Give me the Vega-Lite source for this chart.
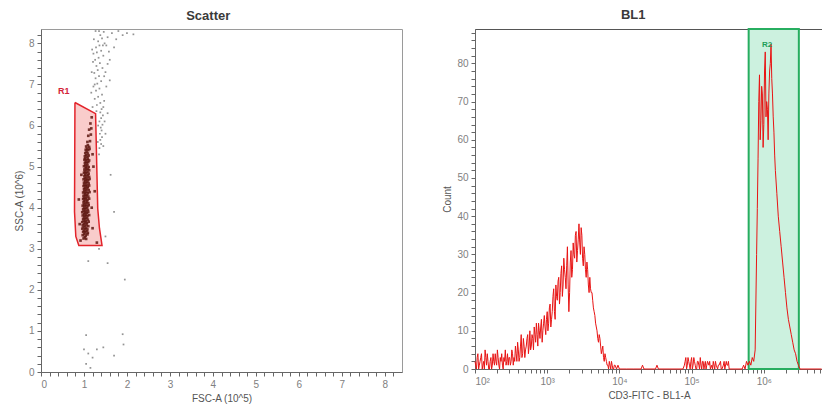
{
  "$schema": "https://vega.github.io/schema/vega-lite/v6.json",
  "background": "white",
  "padding": {"left": 13, "top": 8, "right": 0, "bottom": 0},
  "autosize": {"type": "pad"},
  "spacing": 39,
  "config": {
    "view": {"stroke": null},
    "font": "Liberation Sans",
    "title": {"font": "Liberation Sans", "fontSize": 13, "fontWeight": "bold", "color": "#3a3a3a", "offset": 6, "frame": "bounds"},
    "axis": {"labelFont": "Liberation Sans", "labelFontSize": 10, "labelColor": "#808080", "titleFont": "Liberation Sans", "titleFontSize": 10, "titleFontWeight": "normal", "titleColor": "#555555", "domainColor": "#666666", "tickColor": "#666666", "tickSize": 4, "grid": false, "labelOverlap": false, "labelPadding": 3, "titlePadding": 4}
  },
  "datasets": {
    "gate": [
      {"i": 0, "FSC": 0.79, "SSC": 6.56}, {"i": 1, "FSC": 1.27, "SSC": 6.29}, {"i": 2, "FSC": 1.32, "SSC": 3.98},
      {"i": 3, "FSC": 1.36, "SSC": 3.5}, {"i": 4, "FSC": 1.42, "SSC": 3.08}, {"i": 5, "FSC": 0.88, "SSC": 3.08},
      {"i": 6, "FSC": 0.81, "SSC": 3.3}, {"i": 7, "FSC": 0.78, "SSC": 3.9}, {"i": 8, "FSC": 0.79, "SSC": 6.56}
    ],
    "scatter": [
      {"FSC": 0.99, "SSC": 3.25, "g": "R1"}, {"FSC": 1.02, "SSC": 3.28, "g": "R1"}, {"FSC": 1.05, "SSC": 3.24, "g": "R1"},
      {"FSC": 0.97, "SSC": 3.33, "g": "R1"}, {"FSC": 1.01, "SSC": 3.36, "g": "R1"}, {"FSC": 1.04, "SSC": 3.32, "g": "R1"}, {"FSC": 1.08, "SSC": 3.35, "g": "R1"},
      {"FSC": 0.98, "SSC": 3.41, "g": "R1"}, {"FSC": 1.0, "SSC": 3.44, "g": "R1"}, {"FSC": 1.03, "SSC": 3.4, "g": "R1"}, {"FSC": 1.06, "SSC": 3.43, "g": "R1"}, {"FSC": 1.09, "SSC": 3.39, "g": "R1"},
      {"FSC": 0.96, "SSC": 3.49, "g": "R1"}, {"FSC": 0.99, "SSC": 3.52, "g": "R1"}, {"FSC": 1.02, "SSC": 3.48, "g": "R1"}, {"FSC": 1.05, "SSC": 3.51, "g": "R1"}, {"FSC": 1.08, "SSC": 3.47, "g": "R1"},
      {"FSC": 0.97, "SSC": 3.57, "g": "R1"}, {"FSC": 1.0, "SSC": 3.6, "g": "R1"}, {"FSC": 1.03, "SSC": 3.56, "g": "R1"}, {"FSC": 1.06, "SSC": 3.59, "g": "R1"}, {"FSC": 1.1, "SSC": 3.55, "g": "R1"},
      {"FSC": 0.96, "SSC": 3.65, "g": "R1"}, {"FSC": 0.99, "SSC": 3.68, "g": "R1"}, {"FSC": 1.02, "SSC": 3.64, "g": "R1"}, {"FSC": 1.04, "SSC": 3.67, "g": "R1"}, {"FSC": 1.07, "SSC": 3.63, "g": "R1"}, {"FSC": 1.11, "SSC": 3.66, "g": "R1"},
      {"FSC": 0.98, "SSC": 3.73, "g": "R1"}, {"FSC": 1.01, "SSC": 3.76, "g": "R1"}, {"FSC": 1.03, "SSC": 3.72, "g": "R1"}, {"FSC": 1.06, "SSC": 3.75, "g": "R1"}, {"FSC": 1.09, "SSC": 3.71, "g": "R1"},
      {"FSC": 0.97, "SSC": 3.81, "g": "R1"}, {"FSC": 1.0, "SSC": 3.84, "g": "R1"}, {"FSC": 1.02, "SSC": 3.8, "g": "R1"}, {"FSC": 1.05, "SSC": 3.83, "g": "R1"}, {"FSC": 1.08, "SSC": 3.79, "g": "R1"}, {"FSC": 1.12, "SSC": 3.82, "g": "R1"},
      {"FSC": 0.96, "SSC": 3.89, "g": "R1"}, {"FSC": 0.99, "SSC": 3.92, "g": "R1"}, {"FSC": 1.02, "SSC": 3.88, "g": "R1"}, {"FSC": 1.04, "SSC": 3.91, "g": "R1"}, {"FSC": 1.07, "SSC": 3.87, "g": "R1"}, {"FSC": 1.1, "SSC": 3.9, "g": "R1"},
      {"FSC": 0.98, "SSC": 3.97, "g": "R1"}, {"FSC": 1.01, "SSC": 4.0, "g": "R1"}, {"FSC": 1.03, "SSC": 3.96, "g": "R1"}, {"FSC": 1.06, "SSC": 3.99, "g": "R1"}, {"FSC": 1.09, "SSC": 3.95, "g": "R1"},
      {"FSC": 0.97, "SSC": 4.05, "g": "R1"}, {"FSC": 1.0, "SSC": 4.08, "g": "R1"}, {"FSC": 1.02, "SSC": 4.04, "g": "R1"}, {"FSC": 1.05, "SSC": 4.07, "g": "R1"}, {"FSC": 1.08, "SSC": 4.03, "g": "R1"}, {"FSC": 1.11, "SSC": 4.06, "g": "R1"},
      {"FSC": 0.99, "SSC": 4.13, "g": "R1"}, {"FSC": 1.01, "SSC": 4.16, "g": "R1"}, {"FSC": 1.04, "SSC": 4.12, "g": "R1"}, {"FSC": 1.07, "SSC": 4.15, "g": "R1"}, {"FSC": 1.1, "SSC": 4.11, "g": "R1"},
      {"FSC": 0.98, "SSC": 4.21, "g": "R1"}, {"FSC": 1.0, "SSC": 4.24, "g": "R1"}, {"FSC": 1.03, "SSC": 4.2, "g": "R1"}, {"FSC": 1.05, "SSC": 4.23, "g": "R1"}, {"FSC": 1.08, "SSC": 4.19, "g": "R1"}, {"FSC": 1.12, "SSC": 4.22, "g": "R1"},
      {"FSC": 0.99, "SSC": 4.29, "g": "R1"}, {"FSC": 1.02, "SSC": 4.32, "g": "R1"}, {"FSC": 1.04, "SSC": 4.28, "g": "R1"}, {"FSC": 1.07, "SSC": 4.31, "g": "R1"}, {"FSC": 1.1, "SSC": 4.27, "g": "R1"},
      {"FSC": 0.98, "SSC": 4.37, "g": "R1"}, {"FSC": 1.01, "SSC": 4.4, "g": "R1"}, {"FSC": 1.03, "SSC": 4.36, "g": "R1"}, {"FSC": 1.06, "SSC": 4.39, "g": "R1"}, {"FSC": 1.09, "SSC": 4.35, "g": "R1"}, {"FSC": 1.13, "SSC": 4.38, "g": "R1"},
      {"FSC": 1.0, "SSC": 4.45, "g": "R1"}, {"FSC": 1.02, "SSC": 4.48, "g": "R1"}, {"FSC": 1.05, "SSC": 4.44, "g": "R1"}, {"FSC": 1.08, "SSC": 4.47, "g": "R1"}, {"FSC": 1.11, "SSC": 4.43, "g": "R1"},
      {"FSC": 0.99, "SSC": 4.53, "g": "R1"}, {"FSC": 1.01, "SSC": 4.56, "g": "R1"}, {"FSC": 1.04, "SSC": 4.52, "g": "R1"}, {"FSC": 1.06, "SSC": 4.55, "g": "R1"}, {"FSC": 1.09, "SSC": 4.51, "g": "R1"}, {"FSC": 1.12, "SSC": 4.54, "g": "R1"},
      {"FSC": 1.0, "SSC": 4.61, "g": "R1"}, {"FSC": 1.03, "SSC": 4.64, "g": "R1"}, {"FSC": 1.05, "SSC": 4.6, "g": "R1"}, {"FSC": 1.08, "SSC": 4.63, "g": "R1"}, {"FSC": 1.11, "SSC": 4.59, "g": "R1"},
      {"FSC": 0.99, "SSC": 4.69, "g": "R1"}, {"FSC": 1.02, "SSC": 4.72, "g": "R1"}, {"FSC": 1.04, "SSC": 4.68, "g": "R1"}, {"FSC": 1.07, "SSC": 4.71, "g": "R1"}, {"FSC": 1.1, "SSC": 4.67, "g": "R1"}, {"FSC": 1.13, "SSC": 4.7, "g": "R1"},
      {"FSC": 1.01, "SSC": 4.77, "g": "R1"}, {"FSC": 1.03, "SSC": 4.8, "g": "R1"}, {"FSC": 1.06, "SSC": 4.76, "g": "R1"}, {"FSC": 1.09, "SSC": 4.79, "g": "R1"}, {"FSC": 1.12, "SSC": 4.75, "g": "R1"},
      {"FSC": 1.0, "SSC": 4.85, "g": "R1"}, {"FSC": 1.02, "SSC": 4.88, "g": "R1"}, {"FSC": 1.05, "SSC": 4.84, "g": "R1"}, {"FSC": 1.08, "SSC": 4.87, "g": "R1"}, {"FSC": 1.11, "SSC": 4.83, "g": "R1"},
      {"FSC": 1.01, "SSC": 4.93, "g": "R1"}, {"FSC": 1.04, "SSC": 4.96, "g": "R1"}, {"FSC": 1.06, "SSC": 4.92, "g": "R1"}, {"FSC": 1.09, "SSC": 4.95, "g": "R1"}, {"FSC": 1.12, "SSC": 4.91, "g": "R1"},
      {"FSC": 1.0, "SSC": 5.01, "g": "R1"}, {"FSC": 1.03, "SSC": 5.04, "g": "R1"}, {"FSC": 1.05, "SSC": 5.0, "g": "R1"}, {"FSC": 1.08, "SSC": 5.03, "g": "R1"}, {"FSC": 1.11, "SSC": 4.99, "g": "R1"},
      {"FSC": 1.02, "SSC": 5.09, "g": "R1"}, {"FSC": 1.04, "SSC": 5.12, "g": "R1"}, {"FSC": 1.07, "SSC": 5.08, "g": "R1"}, {"FSC": 1.1, "SSC": 5.11, "g": "R1"},
      {"FSC": 1.01, "SSC": 5.17, "g": "R1"}, {"FSC": 1.03, "SSC": 5.2, "g": "R1"}, {"FSC": 1.06, "SSC": 5.16, "g": "R1"}, {"FSC": 1.09, "SSC": 5.19, "g": "R1"}, {"FSC": 1.12, "SSC": 5.15, "g": "R1"},
      {"FSC": 1.02, "SSC": 5.25, "g": "R1"}, {"FSC": 1.05, "SSC": 5.28, "g": "R1"}, {"FSC": 1.08, "SSC": 5.24, "g": "R1"}, {"FSC": 1.11, "SSC": 5.27, "g": "R1"},
      {"FSC": 1.03, "SSC": 5.33, "g": "R1"}, {"FSC": 1.06, "SSC": 5.36, "g": "R1"}, {"FSC": 1.09, "SSC": 5.32, "g": "R1"},
      {"FSC": 1.04, "SSC": 5.41, "g": "R1"}, {"FSC": 1.07, "SSC": 5.44, "g": "R1"}, {"FSC": 1.1, "SSC": 5.4, "g": "R1"}, {"FSC": 1.13, "SSC": 5.43, "g": "R1"},
      {"FSC": 1.05, "SSC": 5.49, "g": "R1"}, {"FSC": 1.09, "SSC": 5.52, "g": "R1"}, {"FSC": 1.12, "SSC": 5.48, "g": "R1"},
      {"FSC": 1.08, "SSC": 5.6, "g": "R1"}, {"FSC": 1.14, "SSC": 5.62, "g": "R1"}, {"FSC": 1.1, "SSC": 5.75, "g": "R1"}, {"FSC": 1.16, "SSC": 5.78, "g": "R1"},
      {"FSC": 1.12, "SSC": 5.9, "g": "R1"}, {"FSC": 1.17, "SSC": 5.93, "g": "R1"}, {"FSC": 1.15, "SSC": 6.05, "g": "R1"}, {"FSC": 1.18, "SSC": 6.2, "g": "R1"},
      {"FSC": 0.9, "SSC": 3.6, "g": "R1"}, {"FSC": 0.88, "SSC": 4.2, "g": "R1"}, {"FSC": 1.2, "SSC": 3.5, "g": "R1"}, {"FSC": 1.25, "SSC": 4.4, "g": "R1"},
      {"FSC": 1.22, "SSC": 5.0, "g": "R1"}, {"FSC": 0.92, "SSC": 3.2, "g": "R1"}, {"FSC": 1.3, "SSC": 3.15, "g": "R1"}, {"FSC": 0.94, "SSC": 4.8, "g": "R1"},
      {"FSC": 1.18, "SSC": 4.0, "g": "R1"}, {"FSC": 1.2, "SSC": 5.3, "g": "R1"},
      {"FSC": 1.36, "SSC": 5.45, "g": "out"}, {"FSC": 1.4, "SSC": 5.55, "g": "out"}, {"FSC": 1.38, "SSC": 5.65, "g": "out"}, {"FSC": 1.42, "SSC": 5.72, "g": "out"},
      {"FSC": 1.37, "SSC": 5.8, "g": "out"}, {"FSC": 1.41, "SSC": 5.88, "g": "out"}, {"FSC": 1.39, "SSC": 5.95, "g": "out"}, {"FSC": 1.43, "SSC": 6.02, "g": "out"},
      {"FSC": 1.36, "SSC": 6.1, "g": "out"}, {"FSC": 1.4, "SSC": 6.18, "g": "out"}, {"FSC": 1.44, "SSC": 6.25, "g": "out"}, {"FSC": 1.38, "SSC": 6.32, "g": "out"},
      {"FSC": 1.41, "SSC": 6.4, "g": "out"}, {"FSC": 1.35, "SSC": 5.3, "g": "out"}, {"FSC": 1.45, "SSC": 5.5, "g": "out"},
      {"FSC": 1.3, "SSC": 6.5, "g": "out"}, {"FSC": 1.38, "SSC": 6.55, "g": "out"}, {"FSC": 1.25, "SSC": 6.65, "g": "out"}, {"FSC": 1.33, "SSC": 6.7, "g": "out"},
      {"FSC": 1.42, "SSC": 6.75, "g": "out"}, {"FSC": 1.28, "SSC": 6.85, "g": "out"}, {"FSC": 1.36, "SSC": 6.9, "g": "out"}, {"FSC": 1.22, "SSC": 6.95, "g": "out"},
      {"FSC": 1.31, "SSC": 7.02, "g": "out"}, {"FSC": 1.4, "SSC": 7.08, "g": "out"}, {"FSC": 1.27, "SSC": 7.15, "g": "out"}, {"FSC": 1.35, "SSC": 7.2, "g": "out"},
      {"FSC": 1.24, "SSC": 7.28, "g": "out"}, {"FSC": 1.32, "SSC": 7.35, "g": "out"}, {"FSC": 1.43, "SSC": 7.4, "g": "out"}, {"FSC": 1.29, "SSC": 7.45, "g": "out"},
      {"FSC": 1.37, "SSC": 7.52, "g": "out"}, {"FSC": 1.26, "SSC": 7.6, "g": "out"}, {"FSC": 1.34, "SSC": 7.65, "g": "out"}, {"FSC": 1.45, "SSC": 7.7, "g": "out"},
      {"FSC": 1.3, "SSC": 7.78, "g": "out"}, {"FSC": 1.4, "SSC": 7.82, "g": "out"}, {"FSC": 1.28, "SSC": 7.9, "g": "out"}, {"FSC": 1.36, "SSC": 7.95, "g": "out"},
      {"FSC": 1.48, "SSC": 8.0, "g": "out"}, {"FSC": 1.33, "SSC": 8.05, "g": "out"}, {"FSC": 1.42, "SSC": 8.12, "g": "out"}, {"FSC": 1.55, "SSC": 8.15, "g": "out"},
      {"FSC": 1.38, "SSC": 8.2, "g": "out"}, {"FSC": 1.65, "SSC": 8.25, "g": "out"}, {"FSC": 1.75, "SSC": 8.1, "g": "out"}, {"FSC": 1.25, "SSC": 7.0, "g": "out"},
      {"FSC": 1.5, "SSC": 7.3, "g": "out"}, {"FSC": 1.47, "SSC": 6.6, "g": "out"}, {"FSC": 1.2, "SSC": 6.45, "g": "out"}, {"FSC": 1.6, "SSC": 7.6, "g": "out"},
      {"FSC": 1.9, "SSC": 8.2, "g": "out"}, {"FSC": 2.15, "SSC": 8.22, "g": "out"}, {"FSC": 1.7, "SSC": 7.9, "g": "out"}, {"FSC": 1.55, "SSC": 7.5, "g": "out"},
      {"FSC": 1.18, "SSC": 7.3, "g": "out"}, {"FSC": 1.21, "SSC": 7.55, "g": "out"}, {"FSC": 1.19, "SSC": 7.85, "g": "out"}, {"FSC": 1.23, "SSC": 8.1, "g": "out"},
      {"FSC": 1.27, "SSC": 8.3, "g": "out"}, {"FSC": 1.46, "SSC": 8.28, "g": "out"}, {"FSC": 1.52, "SSC": 7.95, "g": "out"}, {"FSC": 1.58, "SSC": 7.8, "g": "out"},
      {"FSC": 1.47, "SSC": 7.2, "g": "out"}, {"FSC": 1.52, "SSC": 6.95, "g": "out"}, {"FSC": 1.45, "SSC": 6.45, "g": "out"}, {"FSC": 1.48, "SSC": 6.1, "g": "out"},
      {"FSC": 1.5, "SSC": 5.8, "g": "out"}, {"FSC": 1.33, "SSC": 6.0, "g": "out"}, {"FSC": 1.32, "SSC": 5.6, "g": "out"}, {"FSC": 1.29, "SSC": 6.35, "g": "out"},
      {"FSC": 1.55, "SSC": 6.3, "g": "out"}, {"FSC": 1.6, "SSC": 7.1, "g": "out"}, {"FSC": 1.35, "SSC": 8.3, "g": "out"}, {"FSC": 1.8, "SSC": 8.3, "g": "out"},
      {"FSC": 2.0, "SSC": 8.25, "g": "out"}, {"FSC": 1.22, "SSC": 7.75, "g": "out"}, {"FSC": 1.17, "SSC": 6.8, "g": "out"}, {"FSC": 1.44, "SSC": 7.95, "g": "out"},
      {"FSC": 1.1, "SSC": 2.7, "g": "out"}, {"FSC": 1.55, "SSC": 2.65, "g": "out"}, {"FSC": 1.95, "SSC": 2.25, "g": "out"}, {"FSC": 1.05, "SSC": 0.9, "g": "out"},
      {"FSC": 1.92, "SSC": 0.67, "g": "out"}, {"FSC": 1.9, "SSC": 0.92, "g": "out"}, {"FSC": 1.1, "SSC": 0.45, "g": "out"}, {"FSC": 1.2, "SSC": 0.35, "g": "out"},
      {"FSC": 1.05, "SSC": 0.2, "g": "out"}, {"FSC": 1.3, "SSC": 0.55, "g": "out"}, {"FSC": 1.45, "SSC": 0.6, "g": "out"}, {"FSC": 1.15, "SSC": 0.1, "g": "out"},
      {"FSC": 1.7, "SSC": 3.9, "g": "out"}, {"FSC": 1.62, "SSC": 4.8, "g": "out"}, {"FSC": 1.5, "SSC": 3.3, "g": "out"}, {"FSC": 1.35, "SSC": 3.0, "g": "out"},
      {"FSC": 1.7, "SSC": 0.4, "g": "out"}, {"FSC": 1.0, "SSC": 0.55, "g": "out"}
    ],
    "hist": [
      {"BL1_A": 100, "Count": 2}, {"BL1_A": 104.7, "Count": 0}, {"BL1_A": 109.6, "Count": 4}, {"BL1_A": 114.8, "Count": 1},
      {"BL1_A": 120.2, "Count": 3}, {"BL1_A": 125.9, "Count": 0}, {"BL1_A": 131.8, "Count": 2}, {"BL1_A": 138.0, "Count": 5},
      {"BL1_A": 144.5, "Count": 1}, {"BL1_A": 151.4, "Count": 2}, {"BL1_A": 158.5, "Count": 0}, {"BL1_A": 166.0, "Count": 3},
      {"BL1_A": 173.8, "Count": 1}, {"BL1_A": 182.0, "Count": 2}, {"BL1_A": 190.5, "Count": 4}, {"BL1_A": 199.5, "Count": 1},
      {"BL1_A": 208.9, "Count": 3}, {"BL1_A": 218.8, "Count": 0}, {"BL1_A": 229.1, "Count": 2}, {"BL1_A": 239.9, "Count": 1},
      {"BL1_A": 251.2, "Count": 3}, {"BL1_A": 263.0, "Count": 5}, {"BL1_A": 275.4, "Count": 2}, {"BL1_A": 288.4, "Count": 1},
      {"BL1_A": 302.0, "Count": 3}, {"BL1_A": 316.2, "Count": 2}, {"BL1_A": 331.1, "Count": 4}, {"BL1_A": 346.7, "Count": 3},
      {"BL1_A": 363.1, "Count": 6}, {"BL1_A": 380.2, "Count": 2}, {"BL1_A": 398.1, "Count": 5}, {"BL1_A": 416.9, "Count": 3},
      {"BL1_A": 436.5, "Count": 9}, {"BL1_A": 457.1, "Count": 4}, {"BL1_A": 478.6, "Count": 6}, {"BL1_A": 501.2, "Count": 5},
      {"BL1_A": 524.8, "Count": 8}, {"BL1_A": 549.5, "Count": 4}, {"BL1_A": 575.4, "Count": 10}, {"BL1_A": 602.6, "Count": 6},
      {"BL1_A": 631.0, "Count": 8}, {"BL1_A": 660.7, "Count": 11}, {"BL1_A": 691.8, "Count": 7}, {"BL1_A": 724.4, "Count": 9},
      {"BL1_A": 758.6, "Count": 12}, {"BL1_A": 794.3, "Count": 8}, {"BL1_A": 831.8, "Count": 13}, {"BL1_A": 871.0, "Count": 10},
      {"BL1_A": 912.0, "Count": 14}, {"BL1_A": 955.0, "Count": 9}, {"BL1_A": 1000, "Count": 15}, {"BL1_A": 1047, "Count": 12},
      {"BL1_A": 1096, "Count": 17}, {"BL1_A": 1148, "Count": 13}, {"BL1_A": 1202, "Count": 19}, {"BL1_A": 1259, "Count": 15},
      {"BL1_A": 1318, "Count": 22}, {"BL1_A": 1380, "Count": 18}, {"BL1_A": 1445, "Count": 24}, {"BL1_A": 1514, "Count": 20},
      {"BL1_A": 1585, "Count": 27}, {"BL1_A": 1660, "Count": 22}, {"BL1_A": 1738, "Count": 26}, {"BL1_A": 1820, "Count": 21},
      {"BL1_A": 1905, "Count": 32}, {"BL1_A": 1995, "Count": 15}, {"BL1_A": 2089, "Count": 28}, {"BL1_A": 2188, "Count": 24},
      {"BL1_A": 2291, "Count": 33}, {"BL1_A": 2399, "Count": 29}, {"BL1_A": 2512, "Count": 36}, {"BL1_A": 2630, "Count": 31},
      {"BL1_A": 2754, "Count": 38}, {"BL1_A": 2884, "Count": 30}, {"BL1_A": 3020, "Count": 35}, {"BL1_A": 3162, "Count": 27},
      {"BL1_A": 3311, "Count": 30}, {"BL1_A": 3467, "Count": 24}, {"BL1_A": 3631, "Count": 26}, {"BL1_A": 3802, "Count": 20},
      {"BL1_A": 3981, "Count": 21}, {"BL1_A": 4169, "Count": 20}, {"BL1_A": 4365, "Count": 16}, {"BL1_A": 4571, "Count": 14},
      {"BL1_A": 4786, "Count": 11}, {"BL1_A": 5012, "Count": 8}, {"BL1_A": 5248, "Count": 9}, {"BL1_A": 5495, "Count": 6},
      {"BL1_A": 5754, "Count": 5}, {"BL1_A": 6026, "Count": 3}, {"BL1_A": 6310, "Count": 4}, {"BL1_A": 6607, "Count": 2},
      {"BL1_A": 6918, "Count": 1}, {"BL1_A": 7244, "Count": 2}, {"BL1_A": 7586, "Count": 0}, {"BL1_A": 7943, "Count": 1},
      {"BL1_A": 8318, "Count": 0}, {"BL1_A": 8710, "Count": 1}, {"BL1_A": 9120, "Count": 0}, {"BL1_A": 9550, "Count": 1},
      {"BL1_A": 10000, "Count": 0}, {"BL1_A": 12590, "Count": 0}, {"BL1_A": 15850, "Count": 0}, {"BL1_A": 19950, "Count": 0},
      {"BL1_A": 20890, "Count": 1}, {"BL1_A": 21880, "Count": 0}, {"BL1_A": 31620, "Count": 0}, {"BL1_A": 33110, "Count": 1},
      {"BL1_A": 34670, "Count": 0}, {"BL1_A": 50120, "Count": 0}, {"BL1_A": 75860, "Count": 0}, {"BL1_A": 79430, "Count": 1},
      {"BL1_A": 83180, "Count": 3}, {"BL1_A": 87100, "Count": 1}, {"BL1_A": 91200, "Count": 2}, {"BL1_A": 95500, "Count": 0},
      {"BL1_A": 100000, "Count": 3}, {"BL1_A": 104700, "Count": 1}, {"BL1_A": 109600, "Count": 2}, {"BL1_A": 114800, "Count": 0},
      {"BL1_A": 120200, "Count": 2}, {"BL1_A": 125900, "Count": 1}, {"BL1_A": 131800, "Count": 3}, {"BL1_A": 138000, "Count": 0},
      {"BL1_A": 144500, "Count": 2}, {"BL1_A": 151400, "Count": 1}, {"BL1_A": 158500, "Count": 0}, {"BL1_A": 166000, "Count": 2},
      {"BL1_A": 173800, "Count": 1}, {"BL1_A": 182000, "Count": 0}, {"BL1_A": 190500, "Count": 1}, {"BL1_A": 199500, "Count": 2},
      {"BL1_A": 208900, "Count": 0}, {"BL1_A": 218800, "Count": 1}, {"BL1_A": 229100, "Count": 0}, {"BL1_A": 239900, "Count": 1},
      {"BL1_A": 251200, "Count": 2}, {"BL1_A": 263000, "Count": 0}, {"BL1_A": 275400, "Count": 1}, {"BL1_A": 288400, "Count": 0},
      {"BL1_A": 302000, "Count": 2}, {"BL1_A": 316200, "Count": 1}, {"BL1_A": 331100, "Count": 0}, {"BL1_A": 501200, "Count": 0},
      {"BL1_A": 524800, "Count": 1}, {"BL1_A": 549500, "Count": 0}, {"BL1_A": 575400, "Count": 2}, {"BL1_A": 602600, "Count": 1},
      {"BL1_A": 631000, "Count": 2}, {"BL1_A": 660700, "Count": 1}, {"BL1_A": 691800, "Count": 3}, {"BL1_A": 724400, "Count": 2},
      {"BL1_A": 758600, "Count": 5}, {"BL1_A": 794300, "Count": 30}, {"BL1_A": 831800, "Count": 55}, {"BL1_A": 871000, "Count": 77},
      {"BL1_A": 912000, "Count": 65}, {"BL1_A": 955000, "Count": 72}, {"BL1_A": 1000000, "Count": 64}, {"BL1_A": 1047000, "Count": 83},
      {"BL1_A": 1096000, "Count": 70}, {"BL1_A": 1148000, "Count": 60}, {"BL1_A": 1202000, "Count": 78}, {"BL1_A": 1259000, "Count": 85},
      {"BL1_A": 1318000, "Count": 72}, {"BL1_A": 1380000, "Count": 62}, {"BL1_A": 1445000, "Count": 52}, {"BL1_A": 1514000, "Count": 46},
      {"BL1_A": 1585000, "Count": 40}, {"BL1_A": 1660000, "Count": 36}, {"BL1_A": 1738000, "Count": 32}, {"BL1_A": 1820000, "Count": 28},
      {"BL1_A": 1905000, "Count": 24}, {"BL1_A": 1995000, "Count": 20}, {"BL1_A": 2089000, "Count": 16}, {"BL1_A": 2188000, "Count": 13},
      {"BL1_A": 2291000, "Count": 11}, {"BL1_A": 2399000, "Count": 9}, {"BL1_A": 2512000, "Count": 7}, {"BL1_A": 2630000, "Count": 5},
      {"BL1_A": 2754000, "Count": 4}, {"BL1_A": 2884000, "Count": 2}, {"BL1_A": 3020000, "Count": 1}, {"BL1_A": 3162000, "Count": 0},
      {"BL1_A": 6310000, "Count": 0},
      {"BL1_A": 102.3, "Count": 1}, {"BL1_A": 107.2, "Count": 3}, {"BL1_A": 112.2, "Count": 0}, {"BL1_A": 117.5, "Count": 2},
      {"BL1_A": 123.0, "Count": 4}, {"BL1_A": 128.8, "Count": 1}, {"BL1_A": 134.9, "Count": 0}, {"BL1_A": 141.3, "Count": 3},
      {"BL1_A": 147.9, "Count": 4}, {"BL1_A": 154.9, "Count": 0}, {"BL1_A": 162.2, "Count": 2}, {"BL1_A": 169.8, "Count": 0},
      {"BL1_A": 177.8, "Count": 4}, {"BL1_A": 186.2, "Count": 1}, {"BL1_A": 195.0, "Count": 2}, {"BL1_A": 204.2, "Count": 5},
      {"BL1_A": 213.8, "Count": 1}, {"BL1_A": 223.9, "Count": 3}, {"BL1_A": 234.4, "Count": 4}, {"BL1_A": 245.5, "Count": 0},
      {"BL1_A": 257.0, "Count": 2}, {"BL1_A": 269.2, "Count": 1}, {"BL1_A": 281.8, "Count": 4}, {"BL1_A": 295.1, "Count": 3},
      {"BL1_A": 309.0, "Count": 1}, {"BL1_A": 323.6, "Count": 5}, {"BL1_A": 338.8, "Count": 1}, {"BL1_A": 354.8, "Count": 2},
      {"BL1_A": 371.5, "Count": 4}, {"BL1_A": 389.0, "Count": 7}, {"BL1_A": 407.4, "Count": 2}, {"BL1_A": 426.6, "Count": 6},
      {"BL1_A": 446.7, "Count": 3}, {"BL1_A": 467.7, "Count": 8}, {"BL1_A": 489.8, "Count": 3}, {"BL1_A": 512.9, "Count": 6},
      {"BL1_A": 537.0, "Count": 9}, {"BL1_A": 562.3, "Count": 6}, {"BL1_A": 588.8, "Count": 5}, {"BL1_A": 616.6, "Count": 9},
      {"BL1_A": 645.7, "Count": 5}, {"BL1_A": 676.1, "Count": 9}, {"BL1_A": 707.9, "Count": 12}, {"BL1_A": 741.3, "Count": 6},
      {"BL1_A": 776.2, "Count": 10}, {"BL1_A": 812.8, "Count": 11}, {"BL1_A": 851.1, "Count": 7}, {"BL1_A": 891.3, "Count": 12},
      {"BL1_A": 933.3, "Count": 11}, {"BL1_A": 977.2, "Count": 13}, {"BL1_A": 1023, "Count": 10}, {"BL1_A": 1072, "Count": 16},
      {"BL1_A": 1122, "Count": 11}, {"BL1_A": 1175, "Count": 15}, {"BL1_A": 1230, "Count": 21}, {"BL1_A": 1288, "Count": 13},
      {"BL1_A": 1349, "Count": 19}, {"BL1_A": 1413, "Count": 23}, {"BL1_A": 1479, "Count": 17}, {"BL1_A": 1549, "Count": 25},
      {"BL1_A": 1622, "Count": 19}, {"BL1_A": 1698, "Count": 29}, {"BL1_A": 1778, "Count": 24}, {"BL1_A": 1862, "Count": 27},
      {"BL1_A": 1950, "Count": 22}, {"BL1_A": 2042, "Count": 20}, {"BL1_A": 2138, "Count": 31}, {"BL1_A": 2239, "Count": 26},
      {"BL1_A": 2344, "Count": 30}, {"BL1_A": 2455, "Count": 35}, {"BL1_A": 2570, "Count": 28}, {"BL1_A": 2692, "Count": 34},
      {"BL1_A": 2818, "Count": 33}, {"BL1_A": 2951, "Count": 37}, {"BL1_A": 3090, "Count": 29}, {"BL1_A": 3236, "Count": 32},
      {"BL1_A": 3388, "Count": 26}, {"BL1_A": 3548, "Count": 28}, {"BL1_A": 3715, "Count": 22}, {"BL1_A": 3890, "Count": 24},
      {"BL1_A": 4074, "Count": 20}, {"BL1_A": 4266, "Count": 18}, {"BL1_A": 4467, "Count": 15}, {"BL1_A": 4677, "Count": 12},
      {"BL1_A": 4898, "Count": 10}, {"BL1_A": 5129, "Count": 7}, {"BL1_A": 5370, "Count": 8}, {"BL1_A": 5623, "Count": 4},
      {"BL1_A": 5888, "Count": 6}, {"BL1_A": 6166, "Count": 2}, {"BL1_A": 6457, "Count": 3}, {"BL1_A": 6761, "Count": 1},
      {"BL1_A": 7079, "Count": 0}, {"BL1_A": 7413, "Count": 1}, {"BL1_A": 7762, "Count": 2}, {"BL1_A": 8128, "Count": 0},
      {"BL1_A": 8511, "Count": 1},
      {"BL1_A": 81280, "Count": 2}, {"BL1_A": 85110, "Count": 0}, {"BL1_A": 89130, "Count": 3}, {"BL1_A": 93330, "Count": 1},
      {"BL1_A": 97720, "Count": 2}, {"BL1_A": 102300, "Count": 0}, {"BL1_A": 107200, "Count": 3}, {"BL1_A": 112200, "Count": 1},
      {"BL1_A": 117500, "Count": 0}, {"BL1_A": 123000, "Count": 2}, {"BL1_A": 128800, "Count": 0}, {"BL1_A": 134900, "Count": 1},
      {"BL1_A": 141300, "Count": 2}, {"BL1_A": 147900, "Count": 0}, {"BL1_A": 154900, "Count": 2}, {"BL1_A": 162200, "Count": 1},
      {"BL1_A": 177800, "Count": 2}, {"BL1_A": 195000, "Count": 0}, {"BL1_A": 213800, "Count": 2}, {"BL1_A": 234400, "Count": 1},
      {"BL1_A": 257000, "Count": 0}, {"BL1_A": 281800, "Count": 2}, {"BL1_A": 309000, "Count": 1}, {"BL1_A": 323600, "Count": 2},
      {"BL1_A": 812800, "Count": 42}, {"BL1_A": 851100, "Count": 70}, {"BL1_A": 891300, "Count": 60}, {"BL1_A": 933300, "Count": 74},
      {"BL1_A": 977200, "Count": 58}, {"BL1_A": 1023000, "Count": 78}, {"BL1_A": 1072000, "Count": 66}, {"BL1_A": 1122000, "Count": 68},
      {"BL1_A": 1175000, "Count": 72}, {"BL1_A": 1230000, "Count": 80}, {"BL1_A": 1288000, "Count": 76}, {"BL1_A": 1349000, "Count": 66},
      {"BL1_A": 1413000, "Count": 56}
    ]
  },
  "hconcat": [
    {
      "width": 361,
      "height": 343,
      "title": {"text": "Scatter"},
      "view": {"stroke": "#9a9a9a", "strokeWidth": 1},
      "encoding": {
        "x": {"field": "FSC", "type": "quantitative", "scale": {"domain": [0, 8.4], "nice": false, "zero": false},
          "axis": {"title": "FSC-A (10^5)", "values": [0,0.2,0.4,0.6,0.8,1,1.2,1.4,1.6,1.8,2,2.2,2.4,2.6,2.8,3,3.2,3.4,3.6,3.8,4,4.2,4.4,4.6,4.8,5,5.2,5.4,5.6,5.8,6,6.2,6.4,6.6,6.8,7,7.2,7.4,7.6,7.8,8,8.2],
            "labelExpr": "abs(datum.value - round(datum.value)) < 0.01 ? format(datum.value, 'd') : ''"}},
        "y": {"field": "SSC", "type": "quantitative", "scale": {"domain": [0, 8.35], "nice": false, "zero": false},
          "axis": {"title": "SSC-A (10^6)", "values": [0,0.2,0.4,0.6,0.8,1,1.2,1.4,1.6,1.8,2,2.2,2.4,2.6,2.8,3,3.2,3.4,3.6,3.8,4,4.2,4.4,4.6,4.8,5,5.2,5.4,5.6,5.8,6,6.2,6.4,6.6,6.8,7,7.2,7.4,7.6,7.8,8,8.2],
            "labelExpr": "abs(datum.value - round(datum.value)) < 0.01 ? format(datum.value, 'd') : ''"}}
      },
      "layer": [
        {
          "data": {"name": "gate"},
          "mark": {"type": "line", "fill": "#f5aaa8", "fillOpacity": 0.6, "stroke": "#e3242b", "strokeWidth": 1.5},
          "encoding": {
            "order": {"field": "i", "type": "quantitative"}
          }
        },
        {
          "data": {"name": "scatter"},
          "mark": {"type": "square"},
          "encoding": {
            "color": {"field": "g", "type": "nominal", "scale": {"domain": ["R1", "out"], "range": ["#5e1712", "#5a5a5a"]}, "legend": null},
            "size": {"field": "g", "type": "nominal", "scale": {"domain": ["R1", "out"], "range": [7, 3]}, "legend": null},
            "opacity": {"field": "g", "type": "nominal", "scale": {"domain": ["R1", "out"], "range": [0.85, 0.65]}, "legend": null}
          }
        },
        {
          "data": {"values": [{"FSC": 0.53, "SSC": 6.83, "label": "R1"}]},
          "mark": {"type": "text", "color": "#d4243a", "fontWeight": "bold", "fontSize": 9, "font": "Liberation Sans"},
          "encoding": {
            "text": {"field": "label"}
          }
        }
      ]
    },
    {
      "width": 348,
      "height": 340,
      "title": {"text": "BL1"},
      "view": {"stroke": "#555555", "strokeWidth": 1},
      "encoding": {
        "x": {"field": "BL1_A", "type": "quantitative", "scale": {"type": "log", "domain": [100, 6600000], "nice": false},
          "axis": {"title": "CD3-FITC - BL1-A",
            "values": [100,200,300,400,500,600,700,800,900,1000,2000,3000,4000,5000,6000,7000,8000,9000,10000,20000,30000,40000,50000,60000,70000,80000,90000,100000,200000,300000,400000,500000,600000,700000,800000,900000,1000000,2000000,3000000,4000000,5000000,6000000],
            "labelExpr": "datum.value == 100 ? '10²' : datum.value == 1000 ? '10³' : datum.value == 10000 ? '10⁴' : datum.value == 100000 ? '10⁵' : datum.value == 1000000 ? '10⁶' : ''"}},
        "y": {"field": "Count", "type": "quantitative", "scale": {"domain": [0, 89], "nice": false},
          "axis": {"title": "Count", "values": [0,2,4,6,8,10,12,14,16,18,20,22,24,26,28,30,32,34,36,38,40,42,44,46,48,50,52,54,56,58,60,62,64,66,68,70,72,74,76,78,80,82,84,86,88],
            "labelExpr": "datum.value % 10 == 0 ? format(datum.value, 'd') : ''"}}
      },
      "layer": [
        {
          "data": {"values": [{"BL1_A": 616600, "end": 3055000}]},
          "mark": {"type": "rect", "fill": "#a3e6c4", "fillOpacity": 0.55, "stroke": "#27ae60", "strokeWidth": 2},
          "encoding": {
            "x2": {"field": "end"},
            "y": null
          }
        },
        {
          "data": {"name": "hist"},
          "mark": {"type": "line", "color": "#e81414", "strokeWidth": 1}
        },
        {
          "data": {"values": [{"BL1_A": 1107000, "Count": 84.8, "label": "R2"}]},
          "mark": {"type": "text", "color": "#1f9e5a", "fontWeight": "bold", "fontSize": 8, "font": "Liberation Sans"},
          "encoding": {
            "text": {"field": "label"}
          }
        }
      ]
    }
  ]
}
